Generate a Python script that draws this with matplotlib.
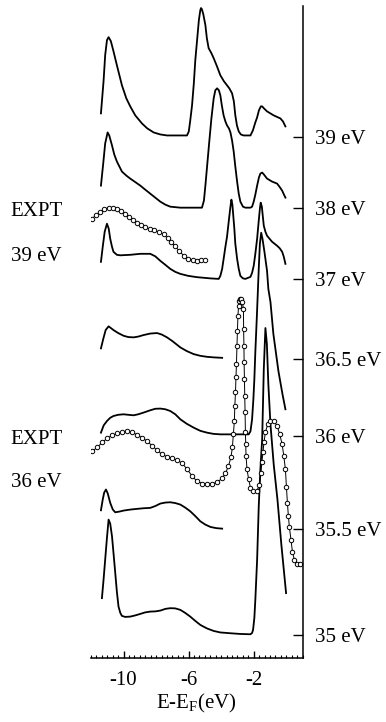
import matplotlib
matplotlib.use("Agg")
import matplotlib.pyplot as plt
from matplotlib.ticker import FixedLocator, MultipleLocator

plt.rcParams["font.family"] = ["Liberation Serif", "DejaVu Serif"]
plt.rcParams["mathtext.fontset"] = "custom"
plt.rcParams["mathtext.rm"] = "Liberation Serif"

# calculated spectra, intensity in arbitrary units above each baseline
e_39 = [-11.39, -11.23, -11.13, -11.02, -10.92, -10.78, -10.62, -10.41, -10.10, -9.83,
        -9.59, -9.28, -8.87, -8.54, -8.15, -7.74, -7.33, -6.10, -5.99, -5.90,
        -5.79, -5.68, -5.59, -5.48, -5.37, -5.28, -5.24, -5.19, -5.10, -4.97,
        -4.88, -4.77, -4.60, -4.46, -4.26, -4.05, -3.83, -3.64, -3.50, -3.33,
        -3.22, -3.13, -3.03, -2.92, -2.79, -2.62, -2.20, -2.05, -1.90, -1.79,
        -1.68, -1.56, -1.48, -1.37, -1.18, -0.77, -0.57, -0.36, -0.20, -0.05]
i_39 = [24, 56, 82, 97, 100, 96, 86, 72, 52, 39,
        31, 22, 14, 9, 5, 3, 2, 2, 6, 17,
        32, 54, 77, 97, 117, 127, 129, 128, 123, 112,
        99, 89, 84, 79, 71, 62, 56, 52, 49, 44,
        36, 22, 12, 6, 3, 2, 2, 7, 15, 20,
        27, 31, 31, 29, 26, 22, 20.5, 19, 16, 11]

e_38 = [-11.39, -11.25, -11.13, -10.98, -10.88, -10.71, -10.57, -10.41, -10.10, -9.83,
        -9.59, -9.28, -8.97, -8.67, -8.36, -8.05, -7.74, -7.43, -7.13, -6.51,
        -5.18, -5.06, -4.97, -4.85, -4.73, -4.60, -4.46, -4.36, -4.25, -4.14,
        -4.05, -3.96, -3.85, -3.74, -3.64, -3.52, -3.43, -3.33, -3.23, -3.13,
        -3.02, -2.92, -2.82, -2.66, -2.51, -2.20, -2.10, -2.00, -1.90, -1.79,
        -1.68, -1.59, -1.48, -1.37, -1.18, -0.87, -0.56, -0.42, -0.25, -0.14, -0.05]
i_38 = [22, 44, 64, 75, 72, 62, 53, 46, 36, 32,
        29, 25.5, 22, 18, 14, 10, 6, 3, 1, 0,
        0, 7, 22, 44, 66, 89, 109, 117, 119, 117,
        112, 102, 92, 86, 82, 79, 75, 67, 56, 41,
        26, 14, 6, 1, 0, 0, 1, 6, 13, 22,
        30, 34, 35, 33, 29, 26, 24, 21, 17, 13, 10]

e_37 = [-11.39, -11.28, -11.16, -11.02, -10.91, -10.82, -10.71, -10.62, -10.41, -10.20,
        -9.59, -8.97, -8.36, -8.05, -7.74, -7.43, -7.13, -6.82, -6.51, -6.02,
        -5.48, -4.66, -4.15, -4.05, -3.94, -3.83, -3.74, -3.64, -3.53, -3.43,
        -3.37, -3.31, -3.25, -3.19, -3.13, -3.02, -2.92, -2.82, -2.66, -2.51,
        -2.20, -2.10, -2.00, -1.90, -1.79, -1.69, -1.62, -1.57, -1.50, -1.38,
        -1.28, -1.18, -0.87, -0.56, -0.40, -0.25, -0.15, -0.05]
i_37 = [17, 32, 47, 55, 50, 40, 32, 27, 24, 23.5,
        24, 25, 25, 22.5, 18, 14, 10, 7, 5, 3,
        1.7, 0.5, 0, 3, 10, 22, 32, 42, 58, 72,
        79, 74, 62, 50, 35, 20, 10, 3, 0.5, 0,
        2, 6, 13, 25, 40, 58, 70, 76, 72, 53,
        47, 43, 37, 33, 30.5, 27, 22, 15]

e_365 = [-11.39, -11.25, -11.10, -10.92, -10.78, -10.62, -10.33, -10.00, -9.71, -9.38,
         -9.09, -8.77, -8.36, -7.94, -7.65, -7.33, -7.00, -6.51, -6.11, -5.69,
         -5.28, -4.87, -4.42, -3.94]
i_365 = [10.7, 20, 29, 32.7, 31, 29, 26, 23.3, 22, 21.7,
         22.5, 24, 25.5, 26, 24.5, 21.7, 18, 11.7, 8, 5,
         3.3, 2.3, 1.7, 1.3]

e_36 = [-11.39, -11.22, -11.02, -10.82, -10.62, -10.33, -10.00, -9.71, -9.38, -9.10,
        -8.77, -8.36, -8.05, -7.74, -7.43, -7.13, -6.82, -6.51, -6.11, -5.69,
        -5.28, -4.87, -4.48, -4.05, -2.31, -2.20, -2.10, -2.02, -1.96, -1.90,
        -1.80, -1.69, -1.62, -1.54, -1.46, -1.34, -1.18, -1.10, -0.97, -0.79,
        -0.48, -0.23, -0.05]
i_36 = [3.7, 11, 15.3, 18.5, 20.3, 21.5, 22, 21.5, 21, 22,
        23.7, 26, 27.5, 27.7, 27, 25.3, 22, 17, 12.5, 8.7,
        5.5, 3.7, 2.5, 2, 2, 5, 17, 37, 57, 84,
        122, 167, 192, 203, 197, 184, 165, 147, 134, 102,
        65, 42, 27]

e_355 = [-11.39, -11.28, -11.19, -11.08, -10.97, -10.82, -10.66, -10.51, -10.26, -10.00,
         -9.59, -9.18, -8.79, -8.36, -8.05, -7.74, -7.43, -7.13, -6.82, -6.51,
         -6.21, -5.90, -5.59, -5.28, -4.97, -4.66, -4.30, -3.94]
i_355 = [18.3, 29, 36, 39, 35, 25.7, 19, 16.3, 17, 18,
         19, 19.7, 20.3, 20.7, 22.5, 25, 26, 26.3, 25.5, 24,
         21, 17.3, 12.5, 7.3, 4, 1.7, 0.5, 0]

e_35 = [-11.33, -11.23, -11.13, -11.02, -10.92, -10.82, -10.71, -10.62, -10.51, -10.41,
        -10.31, -10.20, -10.10, -9.90, -9.59, -9.28, -8.97, -8.67, -8.36, -8.05,
        -7.74, -7.43, -7.13, -6.82, -6.51, -6.21, -5.90, -5.59, -5.28, -4.87,
        -4.46, -4.05, -3.43, -2.82, -2.20, -2.10, -2.04, -1.96, -1.90, -1.79,
        -1.69, -1.59, -1.48, -1.38, -1.28, -1.19, -1.10, -0.97, -0.77, -0.54,
        -0.30, -0.01]
i_35 = [36.7, 55, 75, 97, 115, 111, 98.3, 82, 61.7, 43,
        28.3, 22, 19, 18, 18.3, 19.5, 21, 22.5, 23.3, 23.5,
        24.3, 26, 26.7, 26.5, 25, 22, 18.3, 14, 10, 6.5,
        4, 2.5, 1.7, 1, 0.7, 2, 5, 17, 35, 75,
        128.3, 165, 195, 265, 306, 290, 250, 210, 170, 135,
        90, 41.7]

# experimental spectra
e_x39 = [-11.93, -11.68, -11.43, -11.19, -10.91, -10.65, -10.41, -10.16, -9.91, -9.65,
         -9.40, -9.16, -8.91, -8.67, -8.40, -8.11, -7.82, -7.54, -7.29, -7.06,
         -6.82, -6.57, -6.31, -6.04, -5.75, -5.48, -5.24, -4.99]
i_x39 = [42, 46, 49, 51.5, 53, 52.7, 51.3, 49.5, 47, 43.5,
         40.5, 38, 35.5, 33.5, 32, 30.5, 28.7, 26.3, 22.7, 18.7,
         14.3, 9.7, 5.3, 2, 0.7, 0.3, 0.7, 1]

e_x36 = [-11.93, -11.62, -11.31, -11.00, -10.70, -10.39, -10.08, -9.77, -9.46, -9.16,
         -8.85, -8.54, -8.23, -7.93, -7.62, -7.31, -7.00, -6.70, -6.39, -6.08,
         -5.77, -5.46, -5.16, -4.85, -4.54, -4.23, -3.96, -3.74, -3.56, -3.40,
         -3.31, -3.25, -3.19, -3.16, -3.12, -3.09, -3.06, -3.03, -3.00, -2.97,
         -2.93, -2.88, -2.82, -2.76, -2.70, -2.63, -2.62, -2.60, -2.59, -2.57,
         -2.55, -2.53, -2.51, -2.49, -2.47, -2.41, -2.31, -2.20, -2.02, -1.80,
         -1.65, -1.56, -1.50, -1.43, -1.37, -1.28, -1.14, -0.97, -0.77, -0.56,
         -0.40, -0.25, -0.15, -0.05, 0.01, 0.07, 0.13, 0.19, 0.29, 0.38,
         0.50, 0.69, 0.87]
i_x36 = [113, 117, 122, 126, 129, 131, 132.5, 133, 132, 129.5,
         126.5, 123, 118.5, 114, 110, 107.5, 106, 104.5, 101, 95,
         88, 83, 81, 80.5, 80.5, 82.5, 86, 91, 98, 107,
         117, 130, 143, 158, 172, 187, 200, 218, 233, 248,
         258, 263, 265, 264.5, 262, 255, 235, 218, 202, 185,
         168, 152, 132, 120, 108, 95, 85, 77, 73.5, 73.5,
         80, 91, 102, 112, 122, 132, 140, 143.5, 143.5, 138.5,
         130, 120, 108.3, 95, 78, 62, 49, 38, 25, 13,
         5, 1, 0.5]

theory = [(e_39, i_39), (e_38, i_38), (e_37, i_37), (e_365, i_365),
          (e_36, i_36), (e_355, i_355), (e_35, i_35)]
photon_labels = ["39 eV", "38 eV", "37 eV", "36.5 eV", "36 eV", "35.5 eV", "35 eV"]
baselines = [519, 449, 378, 298, 221, 129, 23]
expt = [(e_x39, i_x39), (e_x36, i_x36)]
expt_baselines = [396, 93]

fig = plt.figure(figsize=(3.86, 7.22), dpi=100)
ax = fig.add_axes([0.2358, 0.0886, 0.5479, 0.9030])

for (e, i), b in zip(theory, baselines):
    ax.plot(e, [b + v for v in i], color="black", lw=1.3, solid_joinstyle="round")

for (e, i), b in zip(expt, expt_baselines):
    ax.plot(e, [b + v for v in i], color="black", lw=0.7, marker="o", ms=3.2,
            mfc="white", mec="black", mew=0.7)

ax.set_xlim(-12, 1)
ax.set_ylim(0, 650)

for side in ("left", "top"):
    ax.spines[side].set_visible(False)
for side in ("bottom", "right"):
    ax.spines[side].set_linewidth(1.1)

ax.xaxis.set_major_locator(FixedLocator([-10, -6, -2]))
ax.xaxis.set_minor_locator(MultipleLocator(1 / 3))
ax.set_xticklabels(["-10", "-6", "-2"])
ax.tick_params(axis="x", which="major", direction="in", length=5, width=1,
               pad=9, labelsize=15)
ax.tick_params(axis="x", which="minor", direction="in", length=2.5, width=0.8)

ax.yaxis.tick_right()
ax.set_yticks(baselines)
ax.set_yticklabels(photon_labels)
ax.tick_params(axis="y", which="major", direction="in", length=7, width=1,
               pad=9, labelsize=15)
ax.yaxis.set_minor_locator(FixedLocator([]))

ax.set_xlabel(r"E-E$_\mathregular{F}$(eV)", fontsize=15, labelpad=2)

fig.text(0.0946, 0.7064, "EXPT", fontsize=15, ha="center", va="center")
fig.text(0.0946, 0.6454, "39 eV", fontsize=15, ha="center", va="center")
fig.text(0.0946, 0.391, "EXPT", fontsize=15, ha="center", va="center")
fig.text(0.0946, 0.3317, "36 eV", fontsize=15, ha="center", va="center")

fig.savefig("out.png", dpi=100)
